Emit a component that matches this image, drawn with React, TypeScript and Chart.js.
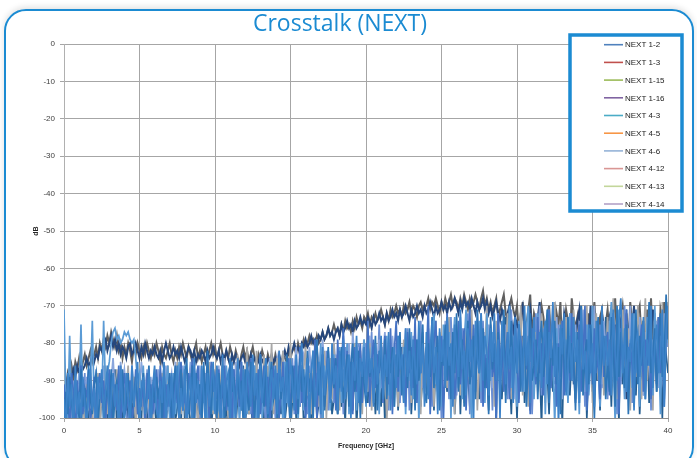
import React, { useEffect, useRef } from "react";
import { Chart, registerables } from "chart.js";

Chart.register(...registerables);

const TITLE = "Crosstalk (NEXT)";
const X_TITLE = "Frequency [GHz]";
const Y_TITLE = "dB";

// sample grid: 0 .. 40 GHz, every 0.125 GHz (321 samples)
const FREQ_GHZ: number[] = Array.from({ length: 321 }, (_, i) => i * 0.125);

const X_TICKS = [0, 5, 10, 15, 20, 25, 30, 35, 40];
const Y_TICKS = [0, -10, -20, -30, -40, -50, -60, -70, -80, -90, -100];

const SERIES_NAMES = [
  "NEXT 1-2", "NEXT 1-3", "NEXT 1-15", "NEXT 1-16", "NEXT 4-3",
  "NEXT 4-5", "NEXT 4-6", "NEXT 4-12", "NEXT 4-13", "NEXT 4-14",
];

// colours of the plotted traces
const LINE_COLORS = [
  "#26477c", "#606060", "#a8a8a8", "#255e91", "#4472c4",
  "#5b9bd5", "#8aa6dc", "#2e75b6", "#6b8fd3", "#3c82c8",
];

// colours shown in the legend box
const LEGEND_COLORS = [
  "#4f81bd", "#c0504d", "#9bbb59", "#8064a2", "#4bacc6",
  "#f79646", "#95b3d7", "#d99694", "#c3d69b", "#b3a2c7",
];

// each row = 2 GHz (16 samples)
const NEXT_1_2 = [
  -100, -93, -89, -91, -90, -87, -89, -86, -88, -85, -87, -86, -84, -86, -85, -83,
  -85, -83, -84, -81, -82, -80, -79, -82, -80, -78, -81, -79, -82, -80, -83, -81,
  -82, -84, -81, -80, -83, -82, -80, -82, -84, -81, -83, -80, -82, -84, -82, -83,
  -81, -83, -84, -82, -85, -82, -80, -82, -84, -83, -81, -83, -82, -84, -81, -83,
  -85, -83, -81, -82, -84, -82, -85, -83, -84, -82, -83, -85, -82, -84, -83, -81,
  -83, -84, -82, -85, -83, -84, -82, -84, -86, -83, -85, -83, -84, -86, -84, -83,
  -85, -84, -86, -83, -85, -84, -86, -85, -83, -85, -84, -86, -84, -85, -83, -85,
  -84, -86, -83, -85, -84, -82, -84, -81, -83, -82, -80, -82, -81, -83, -80, -81,
  -79, -81, -80, -78, -80, -79, -81, -78, -79, -77, -79, -78, -76, -78, -77, -79,
  -77, -76, -78, -75, -77, -76, -74, -76, -75, -77, -74, -76, -75, -73, -75, -74,
  -75, -73, -74, -76, -73, -75, -74, -72, -74, -73, -75, -72, -74, -73, -71, -73,
  -72, -74, -71, -73, -72, -70, -72, -74, -71, -73, -72, -70, -72, -71, -73, -70,
  -72, -71, -69, -71, -73, -70, -72, -71, -69, -71, -70, -72, -69, -71, -70, -68,
  -70, -72, -69, -71, -68, -70, -69, -71, -68, -70, -72, -69, -71, -70, -68, -71,
  -69, -72, -70, -73, -71, -69, -72, -74, -71, -73, -76, -72, -70, -74, -77, -73,
  -75, -79, -72, -70, -76, -81, -74, -71, -78, -84, -75, -73, -69, -77, -82, -76,
  -73, -86, -78, -74, -71, -80, -76, -92, -79, -72, -75, -83, -77, -73, -88, -78,
  -74, -71, -81, -76, -85, -73, -78, -70, -82, -77, -74, -90, -79, -72, -76, -84,
  -78, -73, -71, -80, -75, -87, -79, -74, -72, -81, -95, -78, -73, -76, -70, -83,
  -77, -74, -89, -80, -72, -76, -84, -78, -71, -75, -82, -73, -79, -86, -74, -77,
  -76,
];

const NEXT_1_3 = [
  -97, -92, -88, -90, -86, -89, -85, -87, -84, -88, -85, -83, -86, -84, -82, -85,
  -83, -81, -84, -80, -82, -79, -81, -78, -80, -77, -79, -81, -78, -82, -80, -84,
  -81, -83, -80, -82, -85, -81, -83, -80, -82, -84, -81, -83, -80, -82, -84, -81,
  -83, -80, -82, -85, -81, -83, -84, -82, -80, -83, -85, -82, -84, -81, -83, -80,
  -82, -84, -81, -83, -85, -82, -80, -84, -82, -85, -83, -81, -84, -82, -80, -83,
  -81, -84, -82, -80, -83, -85, -82, -84, -81, -83, -85, -82, -84, -86, -83, -81,
  -84, -82, -85, -83, -81, -84, -86, -83, -85, -82, -84, -86, -83, -85, -84, -86,
  -83, -85, -84, -86, -83, -84, -85, -82, -84, -82, -81, -83, -80, -82, -81, -79,
  -81, -80, -78, -80, -79, -81, -78, -80, -79, -77, -79, -78, -76, -78, -77, -75,
  -77, -76, -78, -75, -77, -74, -76, -75, -77, -74, -76, -73, -75, -74, -76, -73,
  -74, -72, -75, -73, -74, -72, -74, -73, -71, -73, -75, -72, -74, -71, -73, -72,
  -70, -72, -71, -73, -70, -72, -71, -69, -72, -70, -71, -73, -70, -69, -71, -70,
  -70, -68, -71, -69, -70, -68, -70, -72, -69, -71, -68, -70, -69, -67, -70, -68,
  -69, -71, -68, -70, -67, -69, -71, -68, -70, -69, -67, -69, -71, -68, -66, -70,
  -68, -71, -69, -72, -70, -68, -73, -71, -69, -67, -72, -74, -70, -68, -71, -73,
  -70, -77, -73, -69, -80, -75, -71, -67, -78, -72, -74, -84, -76, -70, -73, -79,
  -74, -70, -79, -76, -86, -72, -75, -69, -82, -77, -71, -74, -80, -68, -73, -76,
  -73, -80, -70, -88, -75, -78, -72, -81, -74, -69, -77, -90, -73, -71, -79, -75,
  -71, -77, -83, -73, -68, -79, -85, -74, -70, -76, -72, -81, -69, -75, -87, -78,
  -72, -70, -79, -74, -83, -71, -76, -68, -80, -73, -77, -85, -71, -74, -69, -78,
  -75,
];

const NEXT_1_15 = [
  -100, -94, -104, -96, -90, -99, -102, -93, -97, -89, -95, -103, -91, -98, -88, -101,
  -94, -98, -88, -102, -91, -97, -86, -99, -93, -105, -90, -96, -87, -100, -94, -89,
  -97, -92, -86, -101, -94, -89, -103, -95, -88, -98, -91, -104, -89, -96, -93, -100,
  -87, -97, -92, -102, -88, -95, -99, -86, -94, -101, -90, -97, -85, -95, -99, -88,
  -96, -103, -89, -93, -100, -87, -95, -102, -91, -98, -88, -96, -101, -85, -93, -99,
  -87, -94, -103, -90, -84, -97, -92, -100, -86, -95, -89, -102, -83, -94, -98, -87,
  -93, -81, -99, -90, -85, -96, -82, -101, -89, -94, -83, -97, -86, -91, -80, -99,
  -88, -84, -95, -90, -82, -98, -87, -93, -80, -96, -89, -85, -100, -83, -92, -87,
  -81, -94, -88, -99, -84, -90, -79, -97, -86, -92, -82, -100, -88, -84, -95, -80,
  -91, -86, -98, -83, -89, -94, -81, -97, -85, -90, -80, -96, -87, -82, -99, -84,
  -89, -93, -80, -98, -86, -82, -95, -88, -79, -92, -84, -101, -87, -81, -94, -89,
  -83, -97, -85, -90, -79, -94, -86, -81, -96, -88, -78, -91, -84, -99, -80, -87,
  -93, -76, -89, -84, -97, -74, -88, -82, -95, -79, -86, -92, -73, -89, -81, -99,
  -77, -87, -94, -80, -96, -75, -84, -90, -71, -88, -79, -98, -83, -76, -91, -82,
  -70, -94, -86, -78, -97, -74, -85, -89, -76, -93, -82, -72, -88, -95, -79, -84,
  -91, -82, -70, -94, -86, -78, -97, -74, -85, -89, -77, -93, -83, -72, -88, -96,
  -80, -75, -91, -84, -69, -90, -82, -98, -76, -87, -73, -92, -81, -86, -71, -95,
  -79, -88, -74, -93, -83, -70, -89, -77, -96, -84, -72, -90, -81, -76, -94, -86,
  -73, -91, -80, -68, -87, -95, -78, -83, -71, -92, -85, -76, -98, -82, -74, -89,
  -70, -87, -95, -79, -68, -90, -82, -74, -98, -73, -86, -77, -92, -69, -84, -80,
  -69,
];

const NEXT_1_16 = [
  -102, -95, -99, -91, -104, -97, -93, -100, -96, -105, -92, -98, -94, -101, -89, -97,
  -93, -100, -97, -104, -91, -98, -94, -101, -95, -90, -99, -87, -103, -96, -92, -100,
  -99, -94, -102, -96, -91, -105, -95, -99, -92, -101, -88, -97, -103, -94, -90, -98,
  -96, -103, -93, -98, -100, -94, -104, -92, -99, -95, -89, -101, -97, -93, -102, -88,
  -101, -97, -93, -105, -96, -99, -91, -102, -95, -98, -90, -100, -94, -87, -103, -96,
  -94, -100, -103, -96, -92, -101, -97, -104, -93, -99, -89, -102, -95, -91, -98, -86,
  -102, -95, -99, -92, -105, -97, -93, -100, -96, -91, -103, -88, -97, -94, -101, -90,
  -98, -103, -94, -99, -91, -101, -96, -93, -104, -95, -89, -100, -92, -97, -86, -102,
  -99, -92, -97, -102, -94, -89, -100, -96, -91, -103, -87, -98, -93, -85, -99, -95,
  -94, -99, -88, -97, -93, -101, -85, -95, -90, -98, -84, -102, -92, -87, -96, -89,
  -86, -96, -82, -93, -89, -99, -84, -91, -97, -86, -101, -90, -83, -95, -88, -93,
  -85, -98, -90, -81, -96, -87, -92, -80, -99, -88, -84, -94, -82, -97, -89, -86,
  -81, -94, -87, -76, -98, -85, -90, -79, -96, -83, -88, -93, -78, -91, -84, -99,
  -89, -78, -99, -84, -92, -75, -88, -97, -81, -93, -86, -74, -95, -82, -90, -80,
  -86, -98, -79, -91, -84, -101, -77, -89, -95, -82, -73, -92, -87, -99, -80, -85,
  -100, -85, -91, -78, -96, -88, -83, -98, -80, -94, -75, -90, -86, -102, -79, -84,
  -87, -99, -81, -93, -76, -90, -97, -84, -102, -79, -88, -74, -94, -83, -91, -77,
  -85, -96, -72, -89, -81, -100, -86, -78, -93, -75, -90, -83, -98, -80, -87, -73,
  -92, -82, -97, -77, -88, -84, -101, -76, -91, -86, -71, -95, -83, -89, -79, -94,
  -81, -99, -86, -74, -90, -78, -96, -84, -88, -72, -93, -80, -85, -100, -77, -83,
  -88,
];

const NEXT_4_3 = [
  -91, -98, -95, -102, -88, -93, -105, -90, -97, -86, -99, -92, -94, -87, -101, -96,
  -89, -104, -92, -88, -96, -90, -100, -93, -87, -102, -95, -91, -98, -86, -103, -92,
  -88, -98, -94, -90, -101, -96, -87, -99, -92, -97, -90, -104, -88, -95, -91, -99,
  -93, -87, -99, -86, -94, -100, -91, -97, -89, -103, -95, -88, -96, -90, -85, -98,
  -93, -101, -88, -92, -84, -97, -91, -86, -99, -94, -88, -96, -90, -101, -85, -93,
  -89, -95, -87, -100, -91, -86, -98, -93, -89, -102, -87, -94, -90, -97, -85, -99,
  -92, -88, -96, -84, -101, -90, -95, -87, -99, -92, -86, -97, -89, -103, -91, -86,
  -95, -88, -100, -93, -85, -97, -90, -84, -98, -91, -86, -99, -94, -81, -96, -90,
  -101, -85, -93, -88, -94, -79, -100, -87, -92, -83, -97, -89, -82, -95, -90, -84,
  -98, -79, -92, -87, -76, -94, -82, -90, -85, -99, -81, -93, -87, -80, -96, -84,
  -90, -74, -97, -85, -79, -92, -83, -88, -81, -96, -78, -85, -91, -76, -99, -82,
  -74, -93, -80, -87, -83, -97, -77, -88, -81, -92, -73, -96, -81, -88, -77, -92,
  -84, -70, -99, -86, -80, -74, -93, -85, -78, -101, -83, -72, -90, -86, -79, -95,
  -87, -74, -91, -82, -76, -98, -84, -71, -89, -75, -93, -80, -86, -72, -97, -83,
  -92, -81, -75, -89, -84, -100, -72, -86, -79, -93, -83, -77, -95, -81, -88, -73,
  -84, -96, -78, -90, -74, -87, -82, -99, -76, -85, -91, -73, -88, -80, -94, -77,
  -86, -71, -92, -83, -78, -97, -80, -89, -74, -94, -85, -79, -90, -72, -87, -96,
  -81, -75, -93, -84, -70, -98, -86, -79, -91, -76, -88, -83, -95, -73, -89, -80,
  -77, -94, -85, -72, -90, -81, -99, -76, -87, -83, -71, -92, -80, -86, -97, -74,
  -89, -82, -75, -93, -79, -86, -70, -95, -84, -78, -91, -73, -88, -81, -97, -76,
  -74,
];

const NEXT_4_5 = [
  -71, -96, -100, -78, -97, -99, -93, -101, -95, -75, -98, -92, -100, -96, -90, -74,
  -97, -93, -99, -91, -96, -74, -92, -88, -85, -80, -77, -76, -79, -78, -80, -79,
  -77, -78, -77, -79, -80, -79, -84, -90, -88, -95, -86, -99, -91, -87, -102, -93,
  -88, -97, -93, -104, -89, -96, -91, -86, -101, -94, -88, -99, -92, -85, -97, -90,
  -86, -98, -93, -88, -103, -89, -95, -91, -99, -87, -96, -92, -105, -90, -86, -98,
  -93, -88, -97, -94, -105, -90, -86, -98, -93, -87, -100, -94, -89, -102, -85, -96,
  -91, -99, -88, -95, -90, -86, -102, -93, -87, -100, -94, -89, -96, -85, -98, -92,
  -87, -100, -94, -89, -102, -85, -96, -91, -99, -88, -95, -84, -101, -90, -86, -98,
  -92, -84, -100, -89, -82, -97, -88, -93, -80, -102, -86, -91, -84, -98, -89, -83,
  -95, -88, -81, -96, -87, -92, -80, -99, -86, -91, -84, -98, -82, -93, -88, -79,
  -97, -85, -90, -81, -96, -87, -83, -99, -80, -91, -86, -78, -94, -88, -82, -97,
  -84, -79, -93, -87, -81, -99, -83, -90, -77, -95, -86, -80, -101, -84, -78, -92,
  -88, -76, -94, -83, -72, -91, -86, -79, -97, -75, -84, -89, -77, -100, -81, -73,
  -92, -86, -78, -95, -80, -71, -89, -84, -102, -76, -87, -82, -74, -93, -79, -96,
  -72, -85, -90, -77, -83, -99, -73, -88, -81, -75, -94, -86, -70, -92, -78, -84,
  -97, -74, -81, -88, -93, -76, -70, -85, -79, -95, -83, -72, -90, -87, -77, -99,
  -80, -71, -89, -84, -102, -76, -87, -82, -74, -93, -79, -96, -72, -85, -90, -77,
  -83, -99, -73, -88, -81, -75, -94, -86, -70, -92, -78, -84, -97, -74, -87, -80,
  -91, -76, -69, -85, -101, -78, -71, -89, -82, -95, -74, -86, -79, -92, -72, -88,
  -83, -97, -76, -81, -90, -73, -86, -78, -94, -70, -85, -80, -99, -75, -82, -71,
  -80,
];

const NEXT_4_6 = [
  -100, -96, -92, -99, -94, -90, -97, -93, -88, -95, -91, -98, -89, -94, -87, -96,
  -91, -87, -94, -89, -96, -86, -92, -88, -95, -90, -84, -93, -88, -96, -85, -91,
  -87, -93, -89, -95, -86, -91, -97, -88, -92, -85, -90, -94, -87, -93, -89, -96,
  -90, -96, -87, -93, -89, -94, -86, -98, -91, -88, -95, -85, -92, -89, -97, -86,
  -94, -87, -91, -85, -97, -90, -88, -93, -86, -95, -89, -92, -84, -96, -88, -91,
  -89, -92, -86, -96, -90, -84, -93, -88, -91, -87, -95, -85, -92, -89, -86, -94,
  -93, -86, -90, -84, -95, -89, -85, -92, -83, -88, -94, -87, -91, -84, -96, -89,
  -91, -84, -87, -93, -82, -89, -86, -94, -83, -90, -87, -81, -92, -86, -88, -83,
  -85, -91, -81, -88, -93, -80, -87, -84, -90, -79, -86, -92, -82, -89, -85, -80,
  -86, -92, -82, -88, -78, -91, -84, -80, -89, -77, -85, -90, -81, -87, -83, -79,
  -88, -82, -78, -90, -84, -80, -87, -79, -92, -83, -77, -86, -81, -89, -78, -84,
  -80, -87, -79, -91, -83, -76, -88, -81, -85, -78, -93, -82, -79, -86, -75, -90,
  -84, -79, -90, -75, -86, -81, -93, -77, -83, -88, -74, -87, -80, -92, -76, -85,
  -79, -90, -73, -86, -81, -89, -75, -84, -92, -78, -86, -72, -88, -80, -83, -77,
  -91, -75, -84, -92, -78, -86, -72, -88, -80, -77, -91, -83, -74, -87, -79, -95,
  -76, -84, -73, -89, -78, -85, -71, -93, -80, -76, -88, -82, -70, -86, -79, -91,
  -74, -87, -81, -77, -90, -73, -84, -79, -95, -76, -83, -88, -72, -86, -80, -75,
  -89, -78, -85, -71, -93, -80, -76, -88, -82, -70, -87, -77, -84, -91, -74, -81,
  -86, -74, -91, -79, -83, -72, -97, -81, -75, -87, -78, -84, -70, -90, -80, -76,
  -88, -73, -82, -94, -77, -85, -71, -89, -79, -83, -74, -92, -78, -86, -72, -81,
  -78,
];

const NEXT_4_12 = [
  -104, -93, -99, -89, -96, -101, -90, -94, -100, -87, -97, -92, -103, -86, -95, -99,
  -91, -88, -102, -94, -89, -101, -95, -92, -98, -87, -104, -93, -90, -99, -94, -87,
  -100, -96, -88, -103, -92, -97, -89, -95, -101, -93, -88, -99, -94, -86, -102, -91,
  -96, -89, -95, -90, -103, -87, -98, -94, -88, -100, -92, -86, -93, -101, -87, -96,
  -90, -84, -99, -94, -86, -102, -88, -95, -91, -103, -85, -97, -82, -94, -99, -87,
  -92, -100, -88, -95, -86, -101, -91, -97, -84, -93, -89, -99, -86, -95, -90, -102,
  -87, -94, -98, -85, -92, -100, -88, -96, -83, -91, -97, -86, -101, -90, -85, -95,
  -92, -100, -84, -95, -89, -98, -83, -91, -104, -86, -94, -88, -99, -84, -93, -87,
  -97, -82, -93, -88, -100, -85, -79, -94, -87, -83, -98, -90, -81, -95, -86, -92,
  -84, -99, -88, -81, -96, -90, -83, -97, -86, -80, -93, -89, -82, -100, -85, -91,
  -96, -80, -89, -84, -92, -78, -98, -82, -86, -90, -79, -95, -84, -88, -81, -97,
  -83, -89, -77, -94, -85, -80, -92, -76, -87, -82, -98, -79, -90, -84, -75, -93,
  -96, -80, -89, -73, -92, -84, -78, -98, -82, -86, -75, -90, -81, -95, -77, -88,
  -72, -93, -84, -79, -97, -83, -74, -91, -86, -78, -95, -71, -88, -81, -76, -92,
  -84, -99, -73, -87, -80, -90, -77, -94, -83, -71, -96, -79, -86, -74, -91, -81,
  -88, -75, -93, -82, -78, -97, -84, -72, -90, -86, -79, -95, -81, -74, -89, -83,
  -71, -96, -79, -86, -74, -91, -81, -99, -76, -85, -93, -73, -88, -80, -84, -98,
  -77, -89, -70, -94, -83, -79, -91, -75, -86, -100, -81, -73, -90, -84, -78, -95,
  -85, -93, -73, -80, -97, -70, -89, -77, -84, -92, -75, -99, -82, -79, -87, -71,
  -91, -78, -86, -74, -95, -81, -69, -88, -83, -76, -93, -80, -72, -89, -84, -67,
  -79,
];

const NEXT_4_13 = [
  -97, -101, -94, -89, -103, -96, -91, -100, -95, -92, -98, -88, -102, -94, -90, -99,
  -103, -94, -99, -90, -97, -93, -101, -88, -96, -100, -91, -95, -89, -102, -93, -97,
  -93, -98, -104, -91, -96, -89, -99, -94, -102, -90, -97, -92, -88, -100, -95, -91,
  -97, -93, -100, -91, -95, -102, -88, -96, -93, -99, -90, -97, -87, -101, -94, -98,
  -90, -101, -94, -97, -89, -103, -92, -96, -100, -91, -95, -88, -99, -93, -87, -97,
  -97, -94, -99, -91, -102, -95, -89, -98, -93, -100, -87, -96, -91, -99, -94, -88,
  -91, -97, -88, -99, -94, -86, -101, -92, -97, -89, -95, -103, -90, -96, -87, -93,
  -100, -91, -95, -87, -98, -93, -88, -96, -90, -84, -99, -92, -86, -97, -89, -94,
  -94, -99, -86, -92, -97, -84, -95, -89, -100, -87, -93, -82, -98, -90, -85, -96,
  -83, -96, -90, -86, -99, -81, -93, -88, -96, -84, -91, -87, -80, -97, -89, -85,
  -80, -91, -86, -77, -95, -83, -88, -75, -92, -81, -89, -84, -98, -79, -90, -86,
  -89, -78, -96, -84, -80, -91, -76, -98, -85, -82, -94, -79, -88, -74, -92, -86,
  -93, -87, -79, -97, -83, -76, -90, -85, -101, -78, -89, -81, -95, -73, -87, -84,
  -94, -81, -88, -76, -91, -84, -72, -99, -87, -80, -93, -77, -85, -96, -74, -89,
  -76, -90, -83, -98, -79, -86, -73, -93, -80, -88, -75, -95, -82, -71, -91, -85,
  -82, -95, -78, -88, -74, -92, -83, -77, -99, -85, -72, -90, -81, -94, -76, -87,
  -79, -93, -84, -70, -91, -86, -75, -97, -82, -89, -73, -95, -80, -85, -77, -92,
  -86, -74, -90, -81, -97, -76, -88, -83, -71, -94, -79, -87, -75, -92, -84, -78,
  -95, -80, -73, -89, -85, -99, -77, -91, -82, -70, -93, -86, -78, -96, -81, -74,
  -90, -83, -76, -94, -79, -87, -72, -98, -84, -80, -91, -75, -88, -82, -95, -73,
  -81,
];

const NEXT_4_14 = [
  -95, -102, -88, -97, -91, -104, -86, -99, -93, -100, -89, -96, -103, -90, -87, -98,
  -92, -105, -89, -95, -87, -100, -93, -86, -102, -94, -88, -97, -91, -103, -86, -96,
  -100, -88, -94, -102, -86, -97, -91, -85, -103, -93, -89, -99, -95, -87, -104, -92,
  -86, -98, -101, -90, -96, -85, -103, -91, -97, -88, -100, -94, -86, -102, -92, -98,
  -87, -105, -93, -89, -101, -84, -96, -90, -99, -86, -94, -102, -88, -97, -91, -85,
  -99, -86, -94, -102, -83, -97, -90, -88, -104, -85, -93, -100, -84, -91, -98, -87,
  -101, -85, -90, -97, -83, -94, -88, -102, -86, -96, -89, -84, -99, -92, -87, -95,
  -86, -99, -82, -93, -89, -100, -85, -97, -84, -91, -98, -83, -95, -88, -80, -96,
  -90, -84, -101, -87, -82, -97, -92, -85, -99, -81, -94, -88, -84, -96, -80, -91,
  -86, -98, -82, -93, -79, -95, -87, -83, -100, -85, -90, -78, -96, -84, -89, -81,
  -94, -79, -88, -84, -97, -80, -91, -86, -78, -95, -83, -89, -77, -98, -85, -81,
  -92, -78, -87, -83, -96, -76, -89, -82, -94, -79, -86, -91, -74, -88, -80, -97,
  -77, -95, -83, -74, -88, -81, -99, -76, -85, -79, -92, -73, -86, -80, -97, -75,
  -83, -89, -71, -87, -82, -94, -76, -85, -79, -100, -74, -84, -88, -72, -90, -78,
  -82, -94, -76, -85, -72, -90, -79, -100, -74, -84, -91, -77, -87, -81, -96, -73,
  -88, -75, -81, -93, -70, -86, -78, -96, -82, -73, -89, -84, -77, -92, -80, -74,
  -91, -77, -84, -69, -89, -80, -102, -75, -83, -72, -94, -86, -78, -90, -73, -85,
  -79, -96, -71, -87, -82, -93, -75, -88, -80, -97, -74, -84, -91, -70, -86, -78,
  -86, -79, -94, -71, -82, -90, -74, -68, -88, -76, -93, -81, -85, -72, -98, -80,
  -77, -89, -83, -73, -95, -79, -86, -70, -92, -81, -75, -88, -84, -71, -97, -76,
  -70,
];

const SERIES_VALUES = [
  NEXT_1_2, NEXT_1_3, NEXT_1_15, NEXT_1_16, NEXT_4_3,
  NEXT_4_5, NEXT_4_6, NEXT_4_12, NEXT_4_13, NEXT_4_14,
];

// lower order is painted on top
const DRAW_ORDER = [9, 10, 5, 8, 3, 4, 6, 2, 7, 1];
const LINE_WIDTHS = [2, 2, 1.7, 1.7, 1.7, 1.7, 1.7, 1.7, 1.7, 1.7];

const TICK_FONT = "'Liberation Sans', Arial, sans-serif";

const overlayPlugin = {
  id: "overlay",
  afterDraw(chart: any) {
    const ctx = chart.ctx as CanvasRenderingContext2D;
    ctx.save();
    // title
    ctx.fillStyle = "#1b8bd2";
    ctx.font = "23px 'Open Sans', sans-serif";
    ctx.textAlign = "center";
    ctx.textBaseline = "middle";
    ctx.fillText(TITLE, 340, 24);

    // legend box
    const bx = 570, by = 35, bw = 112, bh = 176;
    ctx.fillStyle = "#ffffff";
    ctx.fillRect(bx, by, bw, bh);
    ctx.strokeStyle = "#1b8bd2";
    ctx.lineWidth = 3.5;
    ctx.strokeRect(bx, by, bw, bh);

    ctx.font = "8px " + TICK_FONT;
    ctx.textAlign = "left";
    ctx.textBaseline = "middle";
    SERIES_NAMES.forEach((name, i) => {
      const y = 44.7 + i * 17.7;
      ctx.strokeStyle = LEGEND_COLORS[i];
      ctx.lineWidth = 1.6;
      ctx.beginPath();
      ctx.moveTo(604, y);
      ctx.lineTo(623, y);
      ctx.stroke();
      ctx.fillStyle = "#1a1a1a";
      ctx.fillText(name, 625, y + 0.5);
    });
    ctx.restore();
  },
};

export default function App() {
  const ref = useRef<HTMLCanvasElement>(null);

  useEffect(() => {
    if (!ref.current) return;
    const datasets = SERIES_NAMES.map((name, i) => ({
      label: name,
      data: FREQ_GHZ.map((f, j) => ({ x: f, y: SERIES_VALUES[i][j] })),
      borderColor: LINE_COLORS[i],
      backgroundColor: LINE_COLORS[i],
      borderWidth: LINE_WIDTHS[i],
      pointRadius: 0,
      tension: 0,
      fill: false,
      order: DRAW_ORDER[i],
    }));

    const chart = new Chart(ref.current, {
      type: "line",
      data: { datasets },
      plugins: [overlayPlugin],
      options: {
        responsive: false,
        animation: false,
        events: [],
        layout: { padding: { left: 28, right: 29, top: 44, bottom: 4 } },
        plugins: {
          legend: { display: false },
          tooltip: { enabled: false },
          title: { display: false },
        },
        scales: {
          x: {
            type: "linear",
            min: 0,
            max: 40,
            afterFit(scale: any) {
              scale.height = 36;
            },
            afterBuildTicks(scale: any) {
              scale.ticks = X_TICKS.map((v) => ({ value: v }));
            },
            ticks: {
              color: "#404040",
              font: { family: TICK_FONT, size: 8 },
              padding: 4,
              maxRotation: 0,
              autoSkip: false,
            },
            grid: { color: "#a6a6a6", lineWidth: 1, tickLength: 4 },
            border: { color: "#8c8c8c", width: 1 },
            title: {
              display: true,
              text: X_TITLE,
              color: "#262626",
              font: { family: TICK_FONT, size: 7, weight: "bold" },
              padding: { top: 2, bottom: 4 },
            },
          },
          y: {
            type: "linear",
            min: -100,
            max: 0,
            afterFit(scale: any) {
              scale.width = 36;
            },
            afterBuildTicks(scale: any) {
              scale.ticks = Y_TICKS.map((v) => ({ value: v }));
            },
            ticks: {
              color: "#404040",
              font: { family: TICK_FONT, size: 8 },
              padding: 5,
              autoSkip: false,
            },
            grid: { color: "#a6a6a6", lineWidth: 1, tickLength: 4 },
            border: { color: "#b0b0b0", width: 1 },
            title: {
              display: true,
              text: Y_TITLE,
              color: "#262626",
              font: { family: TICK_FONT, size: 7, weight: "bold" },
              padding: { top: 4, bottom: 2 },
            },
          },
        },
      },
    } as any);
    return () => chart.destroy();
  }, []);

  return (
    <div style={{ position: "fixed", left: 0, top: 0, width: 697, height: 458, overflow: "hidden", background: "#ffffff" }}>
      <div
        style={{
          position: "absolute",
          left: 4,
          top: 9,
          width: 690,
          height: 460,
          border: "2.5px solid #1b8bd2",
          borderRadius: 22,
          boxShadow: "0 -2px 6px rgba(0,0,0,0.12)",
          boxSizing: "border-box",
        }}
      />
      <canvas ref={ref} width={697} height={458} style={{ position: "absolute", left: 0, top: 0, width: 697, height: 458 }} />
    </div>
  );
}
